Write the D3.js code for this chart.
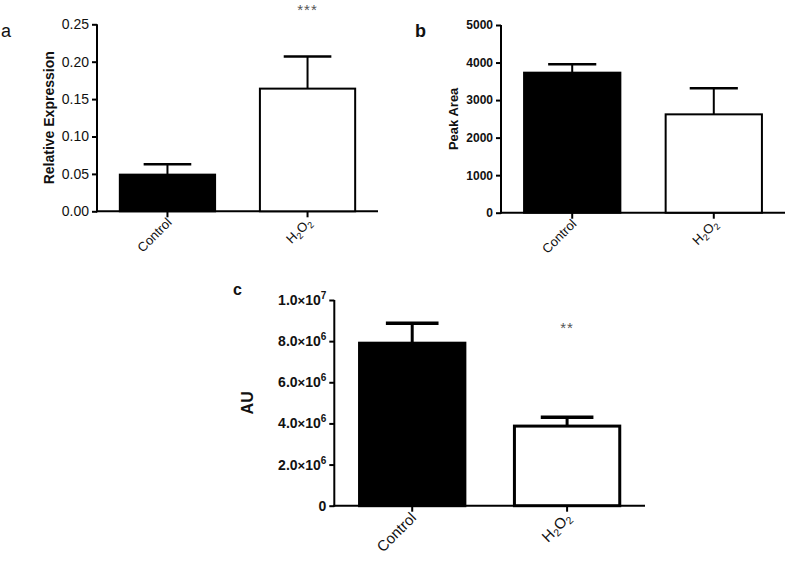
<!DOCTYPE html>
<html>
<head>
<meta charset="utf-8">
<script src="https://cdn.jsdelivr.net/npm/d3@7"></script>
<style>
  body { margin: 0; background: #fff; }
  svg { display: block; font-family: Arial, "Liberation Sans", sans-serif; }
</style>
</head>
<body>
<svg id="chart" width="787" height="564"></svg>
<script>
// data
const categories = ['Control', 'H2O2'];

const exprMean = [0.049, 0.164];
const exprSem = [0.014, 0.043];
const exprTicks = [0, 0.05, 0.10, 0.15, 0.20, 0.25];

const peakMean = [3730, 2620];
const peakSem = [225, 695];
const peakTicks = [0, 1000, 2000, 3000, 4000, 5000];

const auMean = [7.9e6, 3.87e6];
const auSem = [0.97e6, 0.43e6];
const auTicks = [0, 2e6, 4e6, 6e6, 8e6, 1e7];

const svg = d3.select('#chart');

// category label with subscripts for H2O2
function catLabel(sel, size) {
  sel.each(function(d) {
    const t = d3.select(this).text(null);
    if (d === 'H2O2') {
      t.append('tspan').text('H');
      t.append('tspan').attr('font-size', size * 0.7).attr('dy', 3).text('2');
      t.append('tspan').attr('dy', -3).text('O');
      t.append('tspan').attr('font-size', size * 0.7).attr('dy', 3).text('2');
    } else {
      t.text(d);
    }
  });
}

function sciLabel(sel) {
  sel.each(function(d) {
    const t = d3.select(this).text(null);
    if (d === 0) { t.text('0'); return; }
    const e = Math.floor(Math.log10(d));
    const m = d / Math.pow(10, e);
    t.append('tspan').text(m.toFixed(1));
    t.append('tspan').attr('font-size', 13).text('\u00d7');
    t.append('tspan').text('10');
    t.append('tspan').attr('font-size', 10).attr('dy', -6).text(e);
  });
}

function drawPanel(o) {
  const g = svg.append('g');

  const x = d3.scaleBand()
    .domain(categories)
    .range([o.left, o.right])
    .paddingInner(0.32)
    .paddingOuter(0.163);

  const y = d3.scaleLinear()
    .domain([0, o.ticks[o.ticks.length - 1]])
    .range([o.bottom, o.top]);

  // y axis
  const yAxis = g.append('g')
    .attr('transform', 'translate(' + o.left + ',0)')
    .call(d3.axisLeft(y).tickValues(o.ticks).tickSizeOuter(0).tickSize(5).tickPadding(3));
  yAxis.select('.domain').attr('stroke-width', 2).attr('d', 'M0,' + o.top + 'V' + (o.bottom + 1));
  yAxis.selectAll('.tick line').attr('stroke-width', 2);
  const yText = yAxis.selectAll('.tick text')
    .attr('font-size', o.tickSize)
    .attr('font-weight', o.tickWeight)
    .attr('fill', '#111');
  if (o.sci) sciLabel(yText); else yText.text(o.fmt);

  // x axis
  const xAxis = g.append('g')
    .attr('transform', 'translate(0,' + o.bottom + ')')
    .call(d3.axisBottom(x).tickSizeOuter(0).tickSize(6));
  xAxis.select('.domain').attr('stroke-width', 2).attr('d', 'M' + (o.left - 1) + ',0H' + o.right);
  xAxis.selectAll('.tick line').attr('stroke-width', 2);
  const xText = xAxis.selectAll('.tick text')
    .attr('font-size', o.catSize)
    .attr('fill', '#111')
    .attr('text-anchor', 'end')
    .attr('dy', null)
    .attr('y', 0)
    .attr('transform', 'translate(5,' + o.catOff + ') rotate(-45)');
  catLabel(xText, o.catSize);

  // bars
  g.selectAll('rect.bar')
    .data(categories)
    .enter()
    .append('rect')
    .attr('class', 'bar')
    .attr('x', d => x(d))
    .attr('y', (d, i) => y(o.mean[i]))
    .attr('width', x.bandwidth())
    .attr('height', (d, i) => o.bottom - y(o.mean[i]))
    .attr('fill', (d, i) => i === 0 ? '#000' : '#fff')
    .attr('stroke', '#000')
    .attr('stroke-width', o.barStroke);

  // error bars (upper only)
  const eb = g.selectAll('g.err')
    .data(categories)
    .enter()
    .append('g')
    .attr('class', 'err');
  eb.append('line')
    .attr('x1', d => x(d) + x.bandwidth() / 2)
    .attr('x2', d => x(d) + x.bandwidth() / 2)
    .attr('y1', (d, i) => y(o.mean[i]))
    .attr('y2', (d, i) => y(o.mean[i] + o.sem[i]))
    .attr('stroke', '#000')
    .attr('stroke-width', o.barStroke);
  eb.append('line')
    .attr('x1', d => x(d) + x.bandwidth() / 4)
    .attr('x2', d => x(d) + x.bandwidth() * 3 / 4)
    .attr('y1', (d, i) => y(o.mean[i] + o.sem[i]))
    .attr('y2', (d, i) => y(o.mean[i] + o.sem[i]))
    .attr('stroke', '#000')
    .attr('stroke-width', o.barStroke + 0.5);

  // y title
  g.append('text')
    .attr('transform', 'translate(' + o.titleX + ',' + ((o.top + o.bottom) / 2) + ') rotate(-90)')
    .attr('text-anchor', 'middle')
    .attr('font-size', o.titleSize)
    .attr('font-weight', 'bold')
    .attr('fill', '#111')
    .text(o.title);

  // panel letter
  g.append('text')
    .attr('x', o.letterX)
    .attr('y', o.letterY)
    .attr('font-size', o.letterSize)
    .attr('font-weight', o.letterWeight)
    .attr('fill', '#111')
    .text(o.letter);

  // significance
  if (o.star) {
    g.append('text')
      .attr('x', x('H2O2') + x.bandwidth() / 2)
      .attr('y', o.starY)
      .attr('text-anchor', 'middle')
      .attr('font-size', 15)
      .attr('letter-spacing', 1)
      .attr('fill', '#555')
      .text(o.star);
  }
}

drawPanel({
  left: 97, right: 378, top: 24.3, bottom: 211.3,
  mean: exprMean, sem: exprSem, ticks: exprTicks, fmt: d3.format('.2f'),
  tickSize: 14, tickWeight: 'normal', catSize: 13, catOff: 12, barStroke: 2,
  title: 'Relative Expression', titleX: 54, titleSize: 14,
  letter: 'a', letterX: 1, letterY: 37, letterSize: 18, letterWeight: 'normal',
  star: '***', starY: 15
});

drawPanel({
  left: 501, right: 785, top: 25, bottom: 212.7,
  mean: peakMean, sem: peakSem, ticks: peakTicks, fmt: d3.format('d'),
  tickSize: 12, tickWeight: 'bold', catSize: 13, catOff: 12, barStroke: 2,
  title: 'Peak Area', titleX: 458, titleSize: 13,
  letter: 'b', letterX: 415, letterY: 37, letterSize: 18, letterWeight: 'bold'
});

drawPanel({
  left: 334.3, right: 645, top: 300, bottom: 505.7,
  mean: auMean, sem: auSem, ticks: auTicks, sci: true,
  tickSize: 14, tickWeight: 'bold', catSize: 15, catOff: 13, barStroke: 3,
  title: 'AU', titleX: 253, titleSize: 16,
  letter: 'c', letterX: 233, letterY: 295, letterSize: 16, letterWeight: 'bold',
  star: '**', starY: 333
});
</script>
</body>
</html>
